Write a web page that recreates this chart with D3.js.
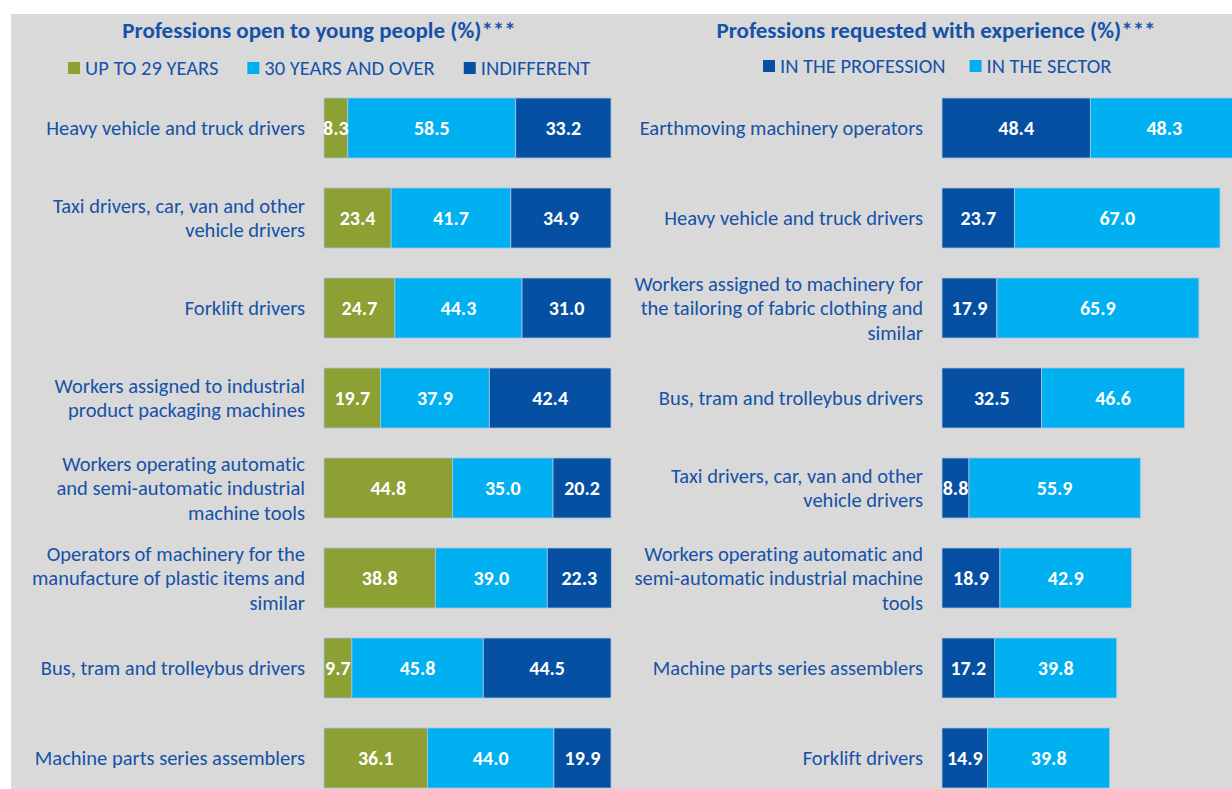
<!DOCTYPE html>
<html>
<head>
<meta charset="utf-8">
<script src="https://cdn.jsdelivr.net/npm/d3@7"></script>
<style>
  body { margin: 0; background: #fff; }
  svg { display: block; font-family: Carlito, Calibri, Lato, sans-serif; font-variant-ligatures: none; }
</style>
</head>
<body>
<svg id="chart" width="1232" height="789"></svg>
<script>
// left panel: professions open to young people
const youngCategories = [
  ["Heavy vehicle and truck drivers"],
  ["Taxi drivers, car, van and other", "vehicle drivers"],
  ["Forklift drivers"],
  ["Workers assigned to industrial", "product packaging machines"],
  ["Workers operating automatic", "and semi-automatic industrial", "machine tools"],
  ["Operators of machinery for the", "manufacture of plastic items and", "similar"],
  ["Bus, tram and trolleybus drivers"],
  ["Machine parts series assemblers"]
];
const youngSeries = ["UP TO 29 YEARS", "30 YEARS AND OVER", "INDIFFERENT"];
const upTo29 = [8.3, 23.4, 24.7, 19.7, 44.8, 38.8, 9.7, 36.1];
const over30 = [58.5, 41.7, 44.3, 37.9, 35.0, 39.0, 45.8, 44.0];
const indifferent = [33.2, 34.9, 31.0, 42.4, 20.2, 22.3, 44.5, 19.9];

// right panel: professions requested with experience
const expCategories = [
  ["Earthmoving machinery operators"],
  ["Heavy vehicle and truck drivers"],
  ["Workers assigned to machinery for", "the tailoring of fabric clothing and", "similar"],
  ["Bus, tram and trolleybus drivers"],
  ["Taxi drivers, car, van and other", "vehicle drivers"],
  ["Workers operating automatic and", "semi-automatic industrial machine", "tools"],
  ["Machine parts series assemblers"],
  ["Forklift drivers"]
];
const expSeries = ["IN THE PROFESSION", "IN THE SECTOR"];
const inProfession = [48.4, 23.7, 17.9, 32.5, 8.8, 18.9, 17.2, 14.9];
const inSector = [48.3, 67.0, 65.9, 46.6, 55.9, 42.9, 39.8, 39.8];

const OLIVE = "#8da034", LIGHT = "#00b0f0", DARK = "#0550a2", TEXT = "#1552a8";

const svg = d3.select("#chart");

svg.append("rect")
  .attr("x", 11).attr("y", 14)
  .attr("width", 1232 - 11).attr("height", 789 - 14)
  .attr("fill", "#d9d9d9");

function drawPanel(opts) {
  const g = svg.append("g");
  const keys = opts.categories.map((c, i) => i);

  const y = d3.scaleBand()
    .domain(keys)
    .range([83, 803])
    .paddingInner(1 / 3)
    .paddingOuter(1 / 6);

  const x = d3.scaleLinear()
    .domain([0, 100])
    .range([opts.x0, opts.x0 + opts.width]);

  // title
  g.append("text")
    .attr("x", opts.titleX).attr("y", 38)
    .attr("text-anchor", "middle")
    .attr("font-size", 23).attr("font-weight", "bold")
    .attr("fill", TEXT)
    .text(opts.title);

  // legend
  const leg = g.append("g");
  let lx = opts.legendX;
  opts.series.forEach((s, i) => {
    leg.append("rect")
      .attr("x", lx).attr("y", opts.legendY - 6)
      .attr("width", 12).attr("height", 12)
      .attr("fill", opts.colors[i]);
    const t = leg.append("text")
      .attr("x", lx + 17).attr("y", opts.legendY + 7)
      .attr("font-size", 20.5)
      .attr("fill", TEXT)
      .text(s);
    lx += 17 + t.node().getComputedTextLength() + opts.legendGap;
  });

  // stacks
  const rows = keys.map(i => {
    let acc = 0;
    return opts.values.map((vals, k) => {
      const seg = { row: i, k: k, v: vals[i], x0: acc, x1: acc + vals[i] };
      acc += vals[i];
      return seg;
    });
  });

  const rowG = g.selectAll("g.row")
    .data(rows)
    .join("g")
    .attr("class", "row");

  rowG.selectAll("rect")
    .data(d => d)
    .join("rect")
    .attr("x", d => x(d.x0))
    .attr("y", d => y(d.row))
    .attr("width", d => x(d.x1) - x(d.x0))
    .attr("height", y.bandwidth())
    .attr("fill", d => opts.colors[d.k])
    .attr("stroke", "#a8c4e6")
    .attr("stroke-width", 0.8);

  rowG.selectAll("text.val")
    .data(d => d)
    .join("text")
    .attr("class", "val")
    .attr("x", d => (x(d.x0) + x(d.x1)) / 2)
    .attr("y", d => y(d.row) + y.bandwidth() / 2 + 7)
    .attr("text-anchor", "middle")
    .attr("font-size", 20).attr("font-weight", "bold")
    .attr("fill", "#fff")
    .text(d => d.v.toFixed(1));

  // category labels
  const lineH = 24.5;
  g.selectAll("text.cat")
    .data(opts.categories)
    .join("text")
    .attr("class", "cat")
    .attr("text-anchor", "end")
    .attr("font-size", 20.5)
    .attr("fill", TEXT)
    .each(function (lines, i) {
      const cy = y(i) + y.bandwidth() / 2;
      const top = cy - (lines.length - 1) * lineH / 2;
      d3.select(this).selectAll("tspan")
        .data(lines)
        .join("tspan")
        .attr("x", opts.x0 - 19)
        .attr("y", (l, j) => top + j * lineH + 7)
        .text(l => l);
    });
}

drawPanel({
  title: "Professions open to young people (%)***",
  titleX: 319,
  categories: youngCategories,
  series: youngSeries,
  values: [upTo29, over30, indifferent],
  colors: [OLIVE, LIGHT, DARK],
  x0: 324, width: 287,
  legendX: 68, legendY: 68, legendGap: 29
});

drawPanel({
  title: "Professions requested with experience (%)***",
  titleX: 936,
  categories: expCategories,
  series: expSeries,
  values: [inProfession, inSector],
  colors: [DARK, LIGHT],
  x0: 942, width: 306.5,
  legendX: 763, legendY: 66, legendGap: 24
});
</script>
</body>
</html>
